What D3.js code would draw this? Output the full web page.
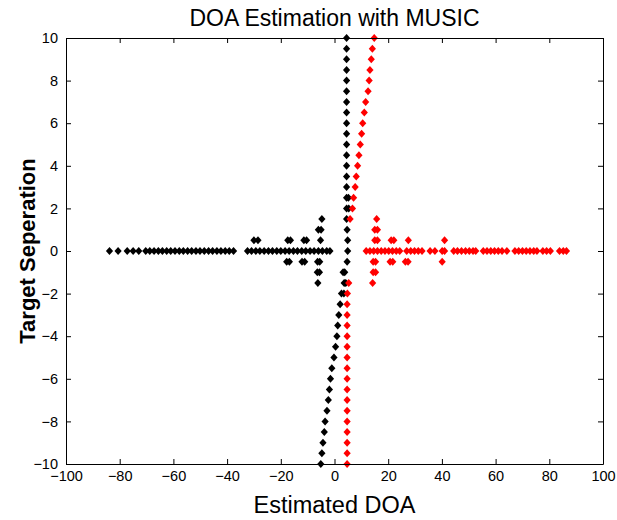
<!DOCTYPE html>
<html>
<head>
<meta charset="utf-8">
<script src="https://cdn.jsdelivr.net/npm/d3@7"></script>
<style>
  html, body { margin: 0; padding: 0; background: #fff; }
  svg { display: block; font-family: "Liberation Sans", Arial, Helvetica, sans-serif; }
</style>
</head>
<body>
<svg id="chart" width="617" height="520"></svg>
<script>
// ---------- data ----------
const titleText = "DOA Estimation with MUSIC";
const xLabelText = "Estimated DOA";
const yLabelText = "Target Seperation";

const xTicks = [-100, -80, -60, -40, -20, 0, 20, 40, 60, 80, 100];
const yTicks = [-10, -8, -6, -4, -2, 0, 2, 4, 6, 8, 10];

// target separation for each trial row
const separations = [10, 9.5, 9, 8.5, 8, 7.5, 7, 6.5, 6, 5.5, 5, 4.5, 4, 3.5, 3, 2.5, 2, 1.5, 1, 0.5, 0,
  -0.5, -1, -1.5, -2, -2.5, -3, -3.5, -4, -4.5, -5, -5.5, -6, -6.5, -7, -7.5, -8, -8.5, -9, -9.5, -10];

// main estimate of first target (black) per separation row
const blackTrack = [4.5, 4.5, 4.5, 4.5, 4.5, 4.5, 4.5, 4.5, 4.5, 4.5, 4.5, 4.5, 4.5, 4.5, 4.5, 4.5, 4.5, 4.5, 4.7, 4.9, 4.9,
  4.7, 3.8, 3.6, 2.6, 2.1, 1.6, 1.2, 0.9, 0.4, -0.2, -1.0, -1.5, -1.9, -2.3, -2.8, -3.5, -3.8, -4.3, -4.7, -5.1];

// main estimate of second target (red) per separation row (null = no peak)
const redTrack = [14.8, 14.1, 13.7, 13.2, 12.9, 12.5, 11.6, 11.1, 10.5, 10.1, 9.6, 9.1, 8.6, 8.1, 7.7, 7.1, 6.7, 5.8, null, null, null,
  null, null, 5.3, 4.8, 4.7, 4.7, 4.7, 4.7, 4.7, 4.7, 4.7, 4.7, 4.7, 4.7, 4.7, 4.7, 4.7, 4.7, 4.7, 4.7];

// spurious / scattered black estimates [separation, estimate]
const blackScatterSep = [2.5, 2, 1.5, 1, 1, 0.5, 0.5, 0.5, 0.5, 0.5, 0.5, 0.5, -0.5, -0.5, -0.5, -0.5, -0.5, -0.5, -1, -1, -1, -1.5, -1.5, -2];
const blackScatterDoa = [5.2, 5.3, -4.7, -5.0, -6.0, -30.0, -28.5, -17.4, -16.4, -11.4, -10.4, -5.2, -17.8, -16.8, -12.1, -11.1, -6.3, -5.5, -6.4, -5.6, 3.2, -6.2, 4.2, 3.5];

// black estimates at zero separation
const blackZeroRow = [-83.8, -80.6, -77.2, -75.0, -72.9, -70.3, -68.8, -67.2, -65.6, -64.1, -62.5, -61.0, -59.4, -57.8,
  -56.3, -54.7, -53.2, -51.6, -50.1, -48.5, -46.9, -45.4, -43.8, -42.3, -40.7, -39.2, -37.6, -32.4, -30.9, -29.3,
  -27.8, -26.2, -24.6, -23.1, -21.5, -20.0, -18.4, -16.9, -15.3, -13.8, -12.2, -10.7, -9.1, -7.6, -6.0, -4.5, -2.9, -1.7];

// spurious / scattered red estimates [separation, estimate]
const redScatterSep = [1.5, 1, 1, 0.5, 0.5, 0.5, 0.5, 0.5, 0.5, -0.5, -0.5, -0.5, -0.5, -0.5, -0.5, -0.5, -1, -1, -1.5];
const redScatterDoa = [15.7, 15.0, 16.0, 15.0, 16.0, 21.1, 22.1, 27.5, 41.0, 14.4, 15.3, 20.7, 21.7, 26.4, 27.4, 40.1, 14.4, 15.3, 14.2];

// red estimates at zero separation
const redZeroRow = [11.8, 13.2, 14.6, 16.0, 17.4, 18.8, 20.2, 21.6, 23.0, 24.3, 26.9, 28.4, 29.8, 31.2, 32.6, 35.6, 37.4,
  40.1, 41.0, 44.4, 45.8, 47.3, 48.8, 50.2, 51.6, 52.6, 55.4, 56.8, 58.2, 59.6, 61.0, 62.4, 64.2, 67.2, 68.6, 70.0,
  71.4, 72.8, 74.2, 75.4, 77.6, 79.0, 80.4, 83.8, 85.2, 86.4];

// ---------- layout ----------
const svg = d3.select("#chart");
const margin = { left: 66, right: 14, top: 38, bottom: 56 };
const W = 617, H = 520;
const x = d3.scaleLinear().domain([-100, 100]).range([margin.left, W - margin.right]);
const y = d3.scaleLinear().domain([-10, 10]).range([H - margin.bottom, margin.top]);

// points
const blackPts = [];
separations.forEach((s, i) => { if (blackTrack[i] != null) blackPts.push([blackTrack[i], s]); });
blackScatterSep.forEach((s, i) => blackPts.push([blackScatterDoa[i], s]));
blackZeroRow.forEach(v => blackPts.push([v, 0]));

const redPts = [];
separations.forEach((s, i) => { if (redTrack[i] != null) redPts.push([redTrack[i], s]); });
redScatterSep.forEach((s, i) => redPts.push([redScatterDoa[i], s]));
redZeroRow.forEach(v => redPts.push([v, 0]));

const diamond = "M0,-4L3.6,0L0,4L-3.6,0Z";

const plot = svg.append("g");
plot.selectAll("path.b").data(blackPts).enter().append("path")
  .attr("class", "b").attr("d", diamond)
  .attr("transform", d => `translate(${x(d[0])},${y(d[1])})`)
  .attr("fill", "#000");
plot.selectAll("path.r").data(redPts).enter().append("path")
  .attr("class", "r").attr("d", diamond)
  .attr("transform", d => `translate(${x(d[0])},${y(d[1])})`)
  .attr("fill", "#ff0000");

// axes (MATLAB style: inward ticks on all sides)
const tickLen = 5;
const gx = svg.append("g").attr("transform", `translate(0,${y(-10)})`)
  .call(d3.axisBottom(x).tickValues(xTicks).tickSizeInner(-tickLen).tickSizeOuter(0).tickPadding(7));
const gxTop = svg.append("g").attr("transform", `translate(0,${y(10)})`)
  .call(d3.axisTop(x).tickValues(xTicks).tickSizeInner(-tickLen).tickSizeOuter(0).tickFormat(""));
const gy = svg.append("g").attr("transform", `translate(${x(-100)},0)`)
  .call(d3.axisLeft(y).tickValues(yTicks).tickSizeInner(-tickLen).tickSizeOuter(0).tickPadding(8));
const gyRight = svg.append("g").attr("transform", `translate(${x(100)},0)`)
  .call(d3.axisRight(y).tickValues(yTicks).tickSizeInner(-tickLen).tickSizeOuter(0).tickFormat(""));

[gx, gxTop, gy, gyRight].forEach(g => {
  g.selectAll("path.domain").attr("stroke", "#000").attr("stroke-width", 1);
  g.selectAll(".tick line").attr("stroke", "#000");
  g.selectAll(".tick text").attr("fill", "#000")
    .style("font-family", "'Liberation Sans', Arial, sans-serif").style("font-size", "14.5px");
});

// title and labels
svg.append("text").attr("x", x(0)).attr("y", 26)
  .attr("text-anchor", "middle").style("font-size", "23px").attr("fill", "#000").text(titleText);
svg.append("text").attr("x", x(0)).attr("y", 513)
  .attr("text-anchor", "middle").style("font-size", "23.5px").attr("fill", "#000").text(xLabelText);
svg.append("text").attr("transform", `translate(35,${y(0)}) rotate(-90)`)
  .attr("text-anchor", "middle").style("font-size", "22px").style("font-weight", "bold")
  .attr("fill", "#000").text(yLabelText);
</script>
</body>
</html>
